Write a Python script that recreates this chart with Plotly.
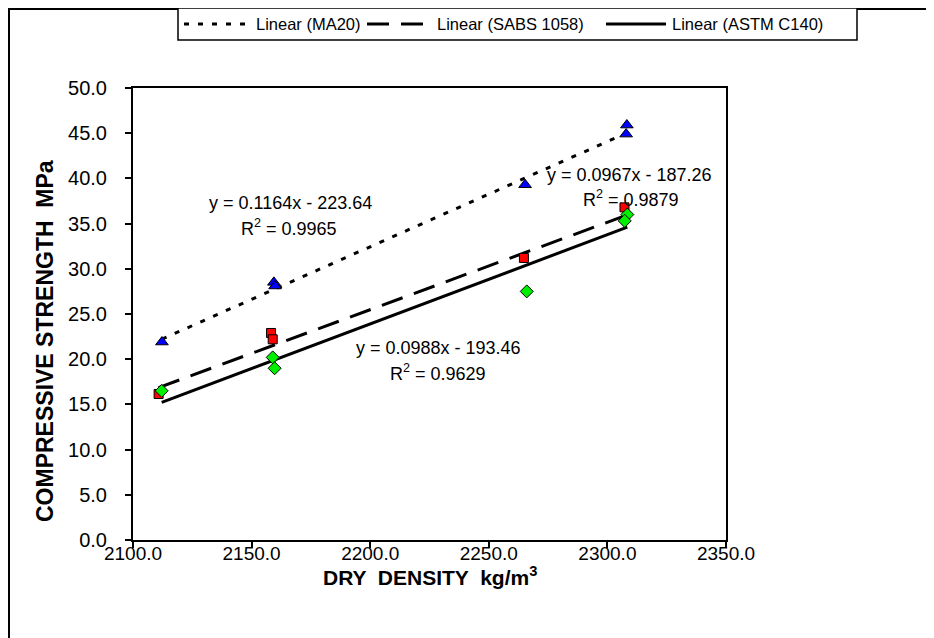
import plotly.graph_objects as go

# ---- data ----
ma20_x = [2112.2, 2159.4, 2159.9, 2265.3, 2307.9, 2308.2]
ma20_y = [21.9, 28.5, 28.1, 39.3, 44.9, 45.9]
sabs_x = [2110.8, 2158.2, 2158.9, 2264.8, 2307.2]
sabs_y = [16.15, 22.9, 22.2, 31.2, 36.8]
astm_x = [2112.1, 2158.9, 2159.7, 2266.0, 2308.4, 2307.3]
astm_y = [16.5, 20.2, 19.0, 27.5, 36.0, 35.3]

# trendline coefficients shown on the chart: slope, intercept, R^2
ma20_fit = (0.1164, -223.64, 0.9965)
sabs_fit = (0.0967, -187.26, 0.9879)
astm_fit = (0.0988, -193.46, 0.9629)

legend_names = ["Linear (MA20)", "Linear (SABS 1058)", "Linear (ASTM C140)"]
x_ticks = [2100.0, 2150.0, 2200.0, 2250.0, 2300.0, 2350.0]
y_ticks = [0.0, 5.0, 10.0, 15.0, 20.0, 25.0, 30.0, 35.0, 40.0, 45.0, 50.0]

FONT = "Liberation Sans, Arial, sans-serif"
DASHES = ["5px,9px", "22px,12px", "solid"]

# page offset (body margin) and plot-area geometry in figure pixels
OFF = 8
L, R, T, B = 133 - OFF, 726 - OFF, 88 - OFF, 540 - OFF
W, H = 934, 638


def sx(xs):  # screen x -> paper
    return (xs - OFF - L) / (R - L)


def sy(ys):  # screen y -> paper
    return (B - (ys - OFF)) / (B - T)


def trend(xs, fit):
    x0, x1 = min(xs), max(xs)
    return [x0, x1], [fit[0] * x0 + fit[1], fit[0] * x1 + fit[1]]


fig = go.Figure()

for xs, fit, dash, name in zip([ma20_x, sabs_x, astm_x], [ma20_fit, sabs_fit, astm_fit],
                               DASHES, legend_names):
    tx, ty = trend(xs, fit)
    fig.add_trace(go.Scatter(x=tx, y=ty, mode="lines", name=name, showlegend=False,
                             line=dict(color="black", width=3, dash=dash),
                             hoverinfo="skip"))

fig.add_trace(go.Scatter(x=ma20_x, y=ma20_y, mode="markers", name="MA20", showlegend=False,
                         marker=dict(symbol="triangle-up", size=11, color="#0000ff",
                                     line=dict(color="black", width=1))))
fig.add_trace(go.Scatter(x=sabs_x, y=sabs_y, mode="markers", name="SABS 1058", showlegend=False,
                         marker=dict(symbol="square", size=9, color="#ff0000",
                                     line=dict(color="black", width=1))))
fig.add_trace(go.Scatter(x=astm_x, y=astm_y, mode="markers", name="ASTM C140", showlegend=False,
                         marker=dict(symbol="diamond", size=10, color="#00ee00",
                                     line=dict(color="black", width=1))))


def eq_text(fit):
    return "y = %.4fx - %.2f" % (fit[0], -fit[1]), "R<sup>2</sup> = %.4f" % fit[2]


ann = []
positions = [
    (ma20_fit, (2166.2, 37.3), (2165.8, 34.6)),
    (sabs_fit, (2309.5, 40.4), (2309.9, 37.8)),
    (astm_fit, (2229.0, 21.2), (2228.6, 18.5)),
]
for fit, p1, p2 in positions:
    t1, t2 = eq_text(fit)
    ann.append(dict(x=p1[0], y=p1[1], xref="x", yref="y", text=t1, showarrow=False,
                    font=dict(family=FONT, size=18, color="black")))
    ann.append(dict(x=p2[0], y=p2[1], xref="x", yref="y", text=t2, showarrow=False,
                    font=dict(family=FONT, size=18, color="black")))

ann.append(dict(x=sx(430), y=sy(591), xref="paper", yref="paper",
                text="DRY  DENSITY  kg/m<sup>3</sup>", showarrow=False,
                font=dict(family=FONT, size=21, color="black", weight="bold")))
ann.append(dict(x=sx(30), y=sy(341), xref="paper", yref="paper",
                text="COMPRESSIVE STRENGTH  MPa", textangle=-90, showarrow=False,
                font=dict(family=FONT, size=23, color="black", weight="bold")))

shapes = [
    # outer chart frame (right/bottom sides fall outside the window)
    dict(type="rect", xref="paper", yref="paper", x0=sx(OFF + 1), x1=sx(OFF + W - 1),
         y0=sy(OFF + 1), y1=sy(OFF + H - 1), line=dict(color="black", width=2)),
    # legend box
    dict(type="rect", xref="paper", yref="paper", x0=sx(178), x1=sx(857), y0=sy(8), y1=sy(40),
         fillcolor="white", line=dict(color="black", width=1.5)),
]

# legend entries (sample line + label), screen pixels
leg_samples = [(184, 251), (367, 431), (606, 666)]
leg_text_x = [254, 435, 670]
for (s0, s1), tx, dash, name in zip(leg_samples, leg_text_x, DASHES, legend_names):
    shapes.append(dict(type="line", xref="paper", yref="paper", x0=sx(s0), x1=sx(s1),
                       y0=sy(24), y1=sy(24), line=dict(color="black", width=3, dash=dash)))
    ann.append(dict(x=sx(tx), y=sy(24), xref="paper", yref="paper", xanchor="left",
                    yanchor="middle", text=name, showarrow=False,
                    font=dict(family=FONT, size=16.5, color="black")))

fig.update_layout(
    width=W, height=H,
    margin=dict(l=L, r=W - R, t=T, b=H - B, autoexpand=False),
    paper_bgcolor="white", plot_bgcolor="white",
    font=dict(family=FONT, size=19, color="black"),
    showlegend=False,
    annotations=ann,
    shapes=shapes,
    xaxis=dict(range=[2100, 2350], tickvals=x_ticks, tickformat=".1f",
               showgrid=False, zeroline=False, showline=True, linecolor="black", linewidth=2,
               mirror=True, ticks="outside", ticklen=6, tickwidth=1.5, tickcolor="black",
               ticklabelstandoff=-11,
               tickfont=dict(family=FONT, size=19, color="black")),
    yaxis=dict(range=[0, 50], tickvals=y_ticks, tickformat=".1f",
               showgrid=False, zeroline=False, showline=True, linecolor="black", linewidth=2,
               mirror=True, ticks="outside", ticklen=6, tickwidth=1.5, tickcolor="black",
               ticklabelstandoff=14,
               tickfont=dict(family=FONT, size=20, color="black")),
)

fig.write_html("out.html")
